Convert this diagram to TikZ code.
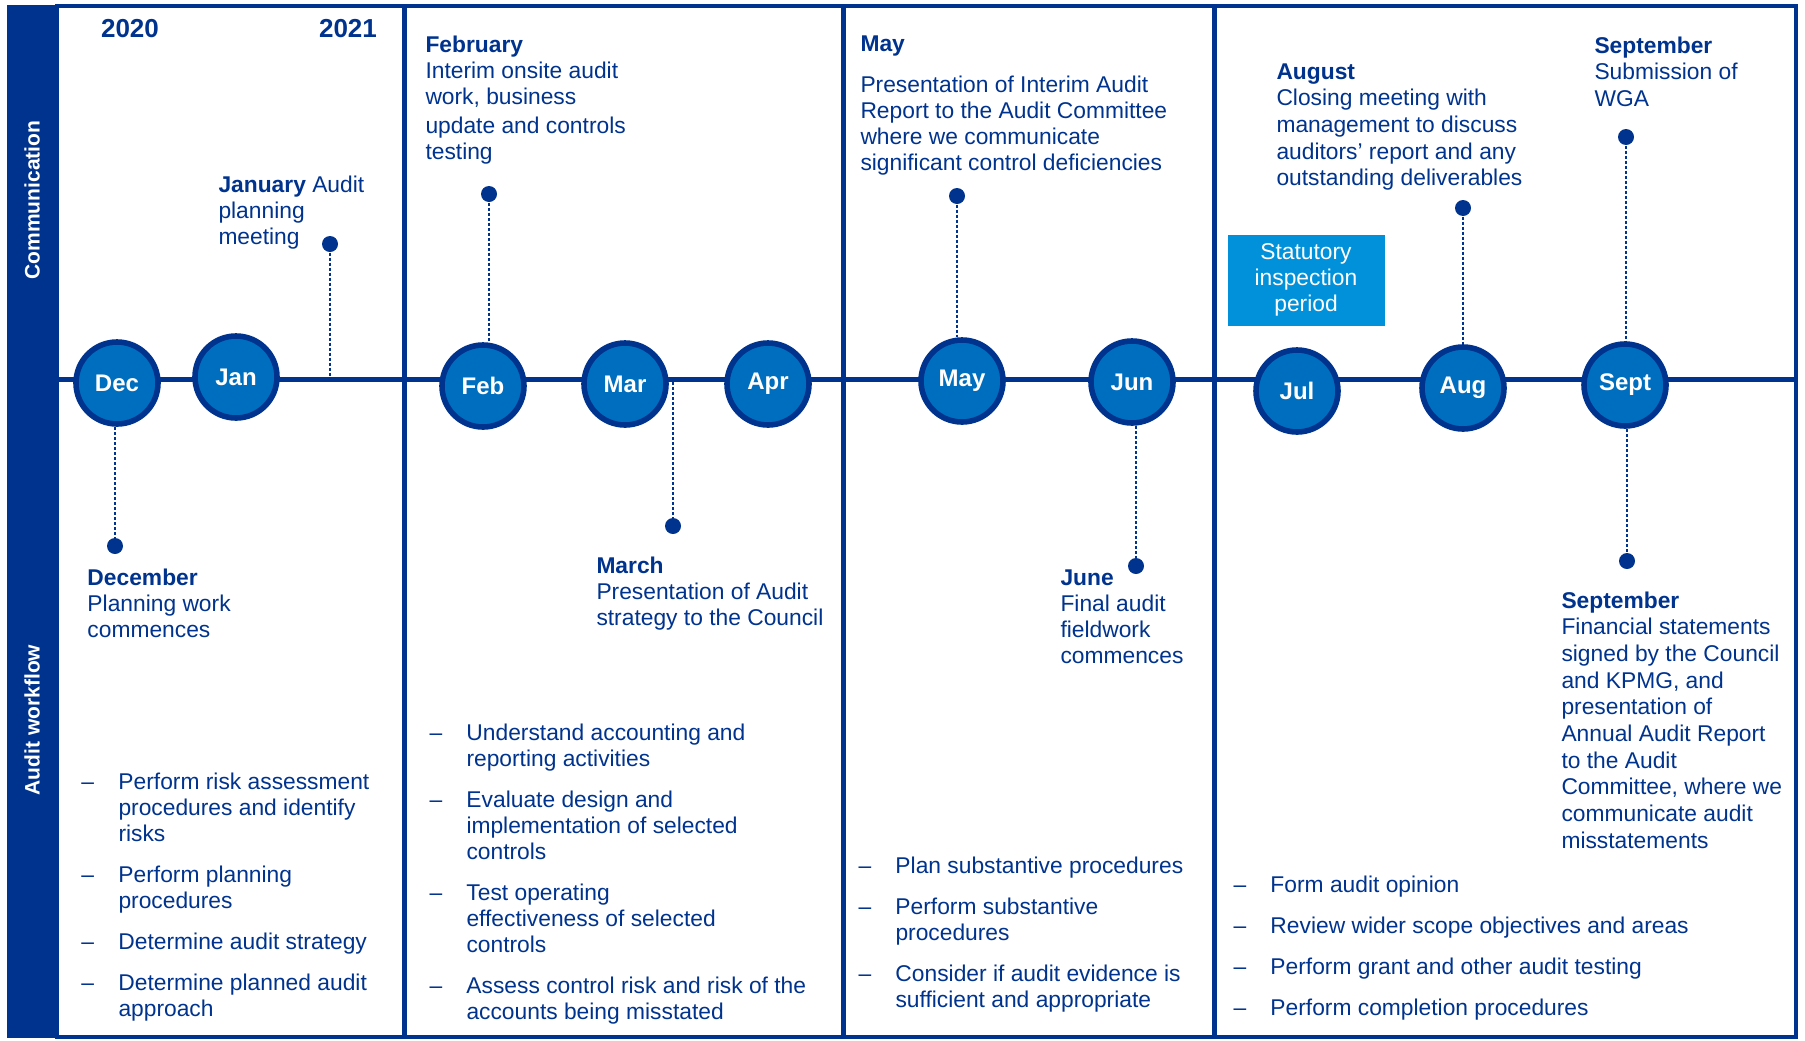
\documentclass[tikz,border=0pt]{standalone}
\usepackage{fontspec}
\setmainfont{Liberation Sans}
\definecolor{kpmgblue}{RGB}{0,51,141}
\definecolor{kpmgmid}{RGB}{0,110,190}
\definecolor{kpmglight}{RGB}{0,145,218}
\newcommand{\evfont}{\fontsize{9.12bp}{10.4bp}\selectfont}
\newcommand{\evwidefont}{\fontsize{9.12bp}{10.68bp}\selectfont}
\newcommand{\monthfont}{\fontsize{9.6bp}{11.2bp}\selectfont\bfseries}
\newcommand{\yearfont}{\fontsize{10.4bp}{12bp}\selectfont\bfseries}

\begin{document}
\begin{tikzpicture}[x=0.4bp, y=-0.4bp,
  monthnode/.style={circle, draw=kpmgblue, line width=2.24bp, fill=kpmgmid, minimum size=32.8bp, inner sep=0pt, text=white, font=\monthfont},
  pindot/.style={circle, fill=kpmgblue, minimum size=6.4bp, inner sep=0pt},
  pinline/.style={kpmgblue, line width=0.48bp, dash pattern=on 1.2bp off 0.8bp},
  evtext/.style={anchor=north west, inner sep=0pt, align=left, text=kpmgblue, font=\evfont},
  worklist/.style={anchor=north west, inner sep=0pt, text=kpmgblue, font=\evfont},
  sidelabel/.style={rotate=90, text=white, font=\fontsize{8.4bp}{10bp}\selectfont\bfseries}]

\useasboundingbox (0,0) rectangle (1805,1040);

% side band, frame and timeline
\fill[kpmgblue] (7,5) rectangle (57,1038);
\draw[kpmgblue, line width=1.6bp] (57,6) rectangle (1796,1037);
\foreach \xdiv in {404, 843, 1214}
  \draw[kpmgblue, line width=2bp] (\xdiv,6) -- (\xdiv,1037);
\coordinate (tlstart) at (57,379);
\coordinate (tlend) at (1796,379);
\draw[kpmgblue, line width=2bp] (tlstart) -- (tlend);

\node[sidelabel] (comm) at (32,200) {Communication};
\node[sidelabel] (workflow) at (32,720) {Audit workflow};

\node[text=kpmgblue, font=\yearfont] (y2020) at (130,29) {2020};
\node[text=kpmgblue, font=\yearfont] (y2021) at (348,29) {2021};

% months on the timeline
\foreach \mname/\lbl/\xc/\yc in {dec/Dec/117/383, jan/Jan/236/377, feb/Feb/483/386, mar/Mar/625/384, apr/Apr/768/384,
    may/May/962/381, jun/Jun/1132/382, jul/Jul/1297/391, aug/Aug/1463/388, sept/Sept/1625/385}
  \node[monthnode] (\mname) at (\xc,\yc) {\lbl};

% pins
\foreach \mname/\xc/\yc in {decpin/115/546, janpin/330/244, febpin/489/194, marpin/673/526, maypin/957/196,
    junpin/1136/566, augpin/1463/208, septpin/1626/137, septlow/1627/561}
  \node[pindot] (\mname) at (\xc,\yc) {};
\coordinate (janfoot) at (330,379);
\coordinate (marfoot) at (673,382);

\draw[pinline] (janpin) -- (janfoot);
\draw[pinline] (febpin) -- (febpin |- feb.north);
\draw[pinline] (maypin) -- (maypin |- may.north);
\draw[pinline] (augpin) -- (augpin |- aug.north);
\draw[pinline] (septpin) -- (septpin |- sept.north);
\draw[pinline] (decpin |- dec.south) -- (decpin);
\draw[pinline] (marfoot) -- (marpin);
\draw[pinline] (junpin |- jun.south) -- (junpin);
\draw[pinline] (septlow |- sept.south) -- (septlow);

% communication texts
\node[evtext] (jantext) at (218,175) {\textbf{January} Audit\\planning\\meeting};
\node[evtext] (febtext) at (425,35) {\textbf{February}\\Interim onsite audit\\work, business\\[1.2bp]update and controls\\testing};
\node[evtext] (maytext) at (860,35) {\textbf{May}\\[6bp]Presentation of Interim Audit\\Report to the Audit Committee\\where we communicate\\significant control deficiencies};
\node[evtext, font=\evwidefont] (augtext) at (1276,63) {\textbf{August}\\Closing meeting with\\management to discuss\\auditors’ report and any\\outstanding deliverables};
\node[evtext, font=\evwidefont] (septtext) at (1594,36) {\textbf{September}\\Submission of\\WGA};
\node[fill=kpmglight, text=white, font=\evfont, align=center, minimum width=62.8bp, minimum height=36.4bp, inner sep=0pt] (statbox) at (1306,280) {Statutory\\inspection\\period};

% workflow texts
\node[evtext] (dectext) at (87,568) {\textbf{December}\\Planning work\\commences};
\node[evtext] (martext) at (596,556) {\textbf{March}\\Presentation of Audit\\strategy to the Council};
\node[evtext] (juntext) at (1060,569) {\textbf{June}\\Final audit\\fieldwork\\commences};
\node[evtext, font=\evwidefont] (septlowtext) at (1561,591) {\textbf{September}\\Financial statements\\signed by the Council\\and KPMG, and\\presentation of\\Annual Audit Report\\to the Audit\\Committee, where we\\communicate audit\\misstatements};

\node[worklist] (list1) at (81,771) {\begin{tabular}{@{}p{14.8bp}@{}l@{}}
  – & Perform risk assessment\\ & procedures and identify\\ & risks\\[6bp]
  – & Perform planning\\ & procedures\\[6bp]
  – & Determine audit strategy\\[6bp]
  – & Determine planned audit\\ & approach
\end{tabular}};
\node[worklist] (list2) at (429,722) {\begin{tabular}{@{}p{14.8bp}@{}l@{}}
  – & Understand accounting and\\ & reporting activities\\[6bp]
  – & Evaluate design and\\ & implementation of selected\\ & controls\\[6bp]
  – & Test operating\\ & effectiveness of selected\\ & controls\\[6bp]
  – & Assess control risk and risk of the\\ & accounts being misstated
\end{tabular}};
\node[worklist] (list3) at (858,855) {\begin{tabular}{@{}p{14.8bp}@{}l@{}}
  – & Plan substantive procedures\\[6bp]
  – & Perform substantive\\ & procedures\\[6bp]
  – & Consider if audit evidence is\\ & sufficient and appropriate
\end{tabular}};
\node[worklist] (list4) at (1233,874) {\begin{tabular}{@{}p{14.8bp}@{}l@{}}
  – & Form audit opinion\\[6bp]
  – & Review wider scope objectives and areas\\[6bp]
  – & Perform grant and other audit testing\\[6bp]
  – & Perform completion procedures
\end{tabular}};
\end{tikzpicture}
\end{document}
